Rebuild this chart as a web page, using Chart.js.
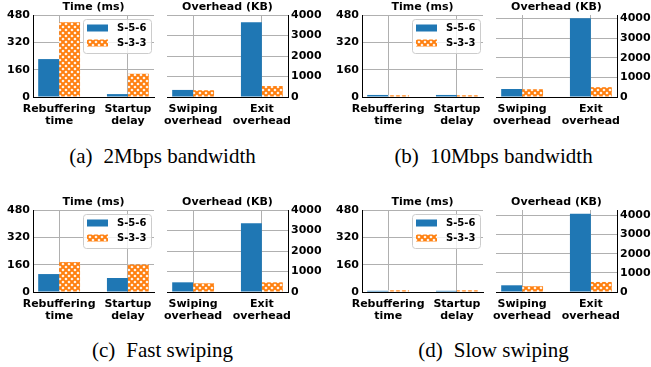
<!DOCTYPE html>
<html><head><meta charset="utf-8">
<script src="https://cdn.jsdelivr.net/npm/chart.js@4.4.0/dist/chart.umd.min.js"></script>
<style>
html,body{margin:0;padding:0;background:#fff;}
#wrap{position:relative;width:651px;height:367px;overflow:hidden;background:#fff;}
#wrap canvas{position:absolute;}
.cap{position:absolute;font-family:"Liberation Serif","Times New Roman",serif;font-size:21px;line-height:21px;color:#000;white-space:nowrap;transform:translateX(-50%);}
.gap{display:inline-block;width:11px;}
</style></head><body><div id="wrap"></div>
<script>
// ---------- data ----------
const timeCats = [['Rebuffering','time'],['Startup','delay']];
const overCats = [['Swiping','overhead'],['Exit','overhead']];
const seriesLabels = ['S-5-6','S-3-3'];
const timeTicks = [0,160,320,480];
const overTicks = [0,1000,2000,3000,4000];
const timeMax = 480;

// (a) 2Mbps bandwidth
const a_time_s56 = [222, 17];
const a_time_s33 = [437, 136];
const a_over_s56 = [345, 3644];
const a_over_s33 = [330, 534];
// (b) 10Mbps bandwidth
const b_time_s56 = [12, 12];
const b_time_s33 = [10, 10];
const b_over_s56 = [407, 4000];
const b_over_s33 = [395, 500];
// (c) Fast swiping
const c_time_s56 = [105, 82];
const c_time_s33 = [175, 161];
const c_over_s56 = [472, 3350];
const c_over_s33 = [423, 472];
// (d) Slow swiping
const d_time_s56 = [7, 7];
const d_time_s33 = [10, 10];
const d_over_s56 = [350, 4087];
const d_over_s33 = [300, 524];

const overMax = [4000, 4170, 4000, 4280];
const captionLabels = ['(a)','(b)','(c)','(d)'];
const captionTexts = ['2Mbps bandwidth','10Mbps bandwidth','Fast swiping','Slow swiping'];

// ---------- style / layout ----------
const BLUE = '#1f77b4', ORANGE = '#ff7f0e', GRID = '#b0b0b0';
Chart.defaults.font.family = 'DejaVu Sans';
Chart.defaults.font.size = 11;
Chart.defaults.font.weight = 'bold';
Chart.defaults.color = '#000';

function makeHatch(){
  const c = document.createElement('canvas');
  c.width = 6; c.height = 6;
  const g = c.getContext('2d');
  g.fillStyle = ORANGE; g.fillRect(0,0,6,6);
  g.fillStyle = '#fff';
  const dia = (x,y,r)=>{g.beginPath();g.moveTo(x-r,y);g.lineTo(x,y-r);g.lineTo(x+r,y);g.lineTo(x,y+r);g.closePath();g.fill();};
  dia(3,3,1.6); dia(0,0,1.6); dia(6,0,1.6); dia(0,6,1.6); dia(6,6,1.6);
  return document.createElement('canvas').getContext('2d').createPattern(c,'repeat');
}
const HATCH = makeHatch();

const legendPlugin = {
  id:'boxLegend',
  afterDatasetsDraw(chart, args, opts){
    if(!opts || !opts.show) return;
    const ctx = chart.ctx, ca = chart.chartArea;
    const bw = 68, bh = 34;
    const bl = ca.right - 3 - bw, bt = ca.top + 4;
    ctx.save();
    ctx.beginPath();
    ctx.roundRect(bl+0.5, bt+0.5, bw, bh, 3);
    ctx.fillStyle = 'rgba(255,255,255,0.8)';
    ctx.fill();
    ctx.strokeStyle = '#cccccc'; ctx.lineWidth = 1; ctx.stroke();
    ctx.font = 'bold 10px "DejaVu Sans"';
    ctx.textBaseline = 'middle'; ctx.textAlign = 'left';
    chart.data.datasets.forEach((ds,i)=>{
      const cy = bt + 9 + 15*i;
      ctx.fillStyle = ds.backgroundColor;
      ctx.fillRect(bl+4, cy-3.5, 21, 7);
      ctx.fillStyle = '#000';
      ctx.fillText(ds.label, bl+34, cy+0.5);
    });
    ctx.restore();
  }
};

const wrap = document.getElementById('wrap');
const PW = 121, PH = 82, TITLE_H = 15, XAX_H = 32, MARG = 26;

function makeChart(isTime, cat0Px, rowTop, s56, s33, yMax){
  const aw = isTime ? 33 : 36;
  const cats = isTime ? timeCats : overCats;
  const ticks = isTime ? timeTicks : overTicks;
  const W = aw*2 + PW, H = TITLE_H + PH + XAX_H;
  const cv = document.createElement('canvas');
  cv.width = W; cv.height = H;
  cv.style.width = W+'px'; cv.style.height = H+'px';
  cv.style.left = (cat0Px - MARG - aw) + 'px';
  cv.style.top = rowTop + 'px';
  wrap.appendChild(cv);
  const tickFont = {size:11, weight:'bold', lineHeight:1.1};
  new Chart(cv, {
    type:'bar',
    data:{datasets:[
      {label:seriesLabels[0], data:s56.map((v,i)=>({x:i,y:v})), backgroundColor:BLUE, borderWidth:0, categoryPercentage:0.609, barPercentage:1},
      {label:seriesLabels[1], data:s33.map((v,i)=>({x:i,y:v})), backgroundColor:HATCH, borderWidth:0, categoryPercentage:0.609, barPercentage:1}
    ]},
    options:{
      responsive:false, animation:false, devicePixelRatio:1,
      layout:{padding:0},
      plugins:{
        legend:{display:false}, tooltip:{enabled:false},
        title:{display:true, text:isTime?'Time (ms)':'Overhead (KB)', color:'#000',
               font:{size:11, weight:'bold', lineHeight:1.2}, padding:{top:1,bottom:0.8}},
        boxLegend:{show:isTime}
      },
      scales:{
        x:{type:'linear', min:-0.38, max:1.38, offset:false,
           afterBuildTicks:s=>{s.ticks=[{value:0},{value:1}];},
           afterFit:s=>{s.height=XAX_H;},
           ticks:{callback:v=>cats[v], autoSkip:false, maxRotation:0, minRotation:0, padding:6, font:tickFont, color:'#000'},
           grid:{color:GRID, lineWidth:1, drawTicks:false, offset:false},
           border:{display:true, color:'#000', width:1}},
        y:{position:isTime?'left':'right', min:0, max:yMax,
           afterBuildTicks:s=>{s.ticks=ticks.map(v=>({value:v}));},
           afterFit:s=>{s.width=aw;},
           ticks:{padding:3, font:tickFont, color:'#000', callback:v=>String(v)},
           grid:{color:GRID, lineWidth:1, drawTicks:false},
           border:{display:true, color:'#000', width:1}},
        pad:{position:isTime?'right':'left', min:0, max:1, display:true,
           afterFit:s=>{s.width=aw;},
           ticks:{display:false}, grid:{display:false, drawTicks:false},
           border:{display:false}}
      }
    },
    plugins:[legendPlugin]
  });
}

const panels = [
  {t:a_time_s56, t2:a_time_s33, o:a_over_s56, o2:a_over_s33, col:0, row:0},
  {t:b_time_s56, t2:b_time_s33, o:b_over_s56, o2:b_over_s33, col:1, row:0},
  {t:c_time_s56, t2:c_time_s33, o:c_over_s56, o2:c_over_s33, col:0, row:1},
  {t:d_time_s56, t2:d_time_s33, o:d_over_s56, o2:d_over_s33, col:1, row:1}
];
panels.forEach((p,i)=>{
  const dx = p.col*329, top = p.row*195;
  makeChart(true, 59+dx, top, p.t, p.t2, timeMax);
  makeChart(false, 193+dx, top, p.o, p.o2, overMax[i]);
  const cap = document.createElement('div');
  cap.className = 'cap';
  cap.style.left = (162.5 + p.col*331) + 'px';
  cap.style.top = (146 + p.row*194) + 'px';
  cap.innerHTML = captionLabels[i] + '<span class="gap"></span>' + captionTexts[i];
  wrap.appendChild(cap);
});
</script>
</body></html>
